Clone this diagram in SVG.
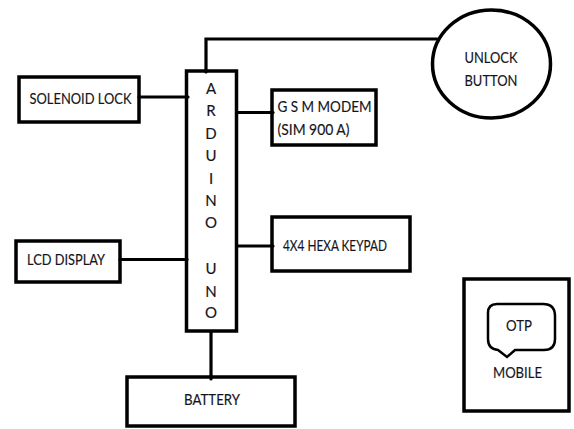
<svg xmlns="http://www.w3.org/2000/svg" width="574" height="429" viewBox="0 0 574 429">
<style>
.b{fill:#fff;stroke:#000;stroke-width:3.5}
.c{fill:none;stroke:#000;stroke-width:3.2;stroke-linecap:round}
text{font-family:Lato,"Open Sans",sans-serif;font-size:15px;fill:#141420;stroke:#141420;stroke-width:.15}
.m{text-anchor:middle}
</style>
<rect width="574" height="429" fill="#fff"/>
<g id="arduino"><rect class="b" x="186.500" y="71" width="50" height="260"/>
<text class="m" x="211" y="94">A</text><text class="m" x="211" y="116">R</text><text class="m" x="211" y="139">D</text><text class="m" x="211" y="161">U</text><text class="m" x="211" y="184">I</text><text class="m" x="211" y="206">N</text><text class="m" x="211" y="228">O</text><text class="m" x="211" y="274">U</text><text class="m" x="211" y="297">N</text><text class="m" x="211" y="318">O</text></g>
<g id="solenoid"><rect class="b" x="19" y="77" width="120" height="45"/><text x="29.500" y="104" textLength="102" lengthAdjust="spacingAndGlyphs">SOLENOID LOCK</text></g>
<g id="lcd"><rect class="b" x="16" y="241" width="104" height="41"/><text x="27" y="265" textLength="78" lengthAdjust="spacingAndGlyphs">LCD DISPLAY</text></g>
<g id="gsm"><rect class="b" x="272" y="90" width="104" height="55"/><text x="277.500" y="112" textLength="94" lengthAdjust="spacingAndGlyphs">G S M MODEM</text><text x="277.500" y="135" textLength="72" lengthAdjust="spacingAndGlyphs">(SIM 900 A)</text></g>
<g id="keypad"><rect class="b" x="272" y="217" width="138" height="54"/><text x="283" y="251" textLength="104" lengthAdjust="spacingAndGlyphs">4X4 HEXA KEYPAD</text></g>
<g id="unlock"><ellipse cx="491.500" cy="64" rx="59" ry="54" fill="#fff" stroke="#000" stroke-width="3.500"/><text x="464.500" y="63" textLength="53" lengthAdjust="spacingAndGlyphs">UNLOCK</text><text x="464.500" y="86" textLength="53" lengthAdjust="spacingAndGlyphs">BUTTON</text></g>
<g id="battery"><rect class="b" x="127" y="377" width="168" height="49"/><text x="184" y="405" textLength="56" lengthAdjust="spacingAndGlyphs">BATTERY</text></g>
<g id="mobile"><rect class="b" x="464" y="279" width="105" height="132"/>
<path d="M497 304H543Q555 304 555 316V339Q555 350 544 350H515L507 357L498 350Q488 349 488 339V313Q488 304 497 304Z" fill="none" stroke="#000" stroke-width="2.500"/>
<text x="506" y="331" textLength="26" lengthAdjust="spacingAndGlyphs">OTP</text><text x="493" y="378" textLength="49" lengthAdjust="spacingAndGlyphs">MOBILE</text></g>
<g id="connectors">
<path class="c" d="M206 72V39H437"/>
<path class="c" d="M139 97H188"/>
<path class="c" d="M237 112.500H273"/>
<path class="c" d="M120 259.500H187"/>
<path class="c" d="M237 246H273"/>
<path class="c" d="M211 332V379"/>
</g>
</svg>
